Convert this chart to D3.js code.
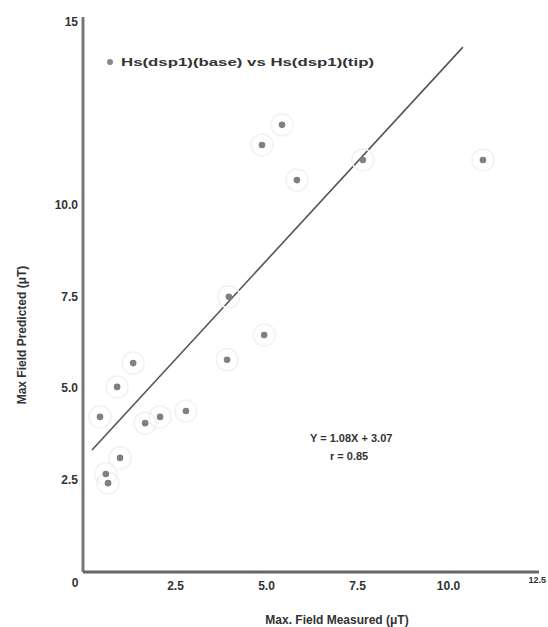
<!DOCTYPE html>
<html>
<head>
<meta charset="utf-8">
<script src="https://cdn.jsdelivr.net/npm/d3@7"></script>
<style>
  body { margin: 0; background: #fff; }
  text { font-family: "Liberation Sans", Arial, sans-serif; font-weight: bold; fill: #333; }
</style>
</head>
<body>
<div id="chart"></div>
<script>
// Measured vs predicted maximum field
var measured  = [0.44, 0.91, 1.35, 1.68, 2.09, 2.80, 3.93, 0.99, 0.60, 0.66, 3.98, 4.95, 4.89, 5.44, 5.85, 7.66, 10.96];
var predicted = [4.21, 5.03, 5.68, 4.04, 4.21, 4.37, 5.77, 3.09, 2.65, 2.40, 7.49, 6.45, 11.64, 12.19, 10.68, 11.23, 11.23];
var xTicks = [2.5, 5.0, 7.5, 10.0];
var yTicks = [2.5, 5.0, 7.5, 10.0, 15];
var fitSlope = 1.08, fitIntercept = 3.07, fitRange = [0.22, 10.41];
var fitLabels = ["Y = 1.08X + 3.07", "r = 0.85"];
var legendLabel = "Hs(dsp1)(base) vs Hs(dsp1)(tip)";

var width = 548, height = 627;
var margin = {top: 22, right: 9, bottom: 56, left: 84};

var svg = d3.select("#chart").append("svg")
    .attr("width", width)
    .attr("height", height);

var x = d3.scaleLinear().domain([0, 12.5]).range([margin.left, width - margin.right]);
var y = d3.scaleLinear().domain([0, 15]).range([height - margin.bottom, margin.top]);

// axes
svg.append("line")
    .attr("x1", x(0) - 1).attr("x2", x(0) - 1)
    .attr("y1", 17).attr("y2", y(0) + 1)
    .style("stroke", "#777").style("stroke-width", 3);
svg.append("line")
    .attr("x1", x(0) - 1).attr("x2", x(12.5))
    .attr("y1", y(0) + 1).attr("y2", y(0) + 1)
    .style("stroke", "#666").style("stroke-width", 3);

var xAxis = svg.append("g")
    .attr("transform", "translate(0," + (y(0) + 2) + ")")
    .call(d3.axisBottom(x).tickValues(xTicks).tickSize(0).tickPadding(8).tickFormat(d3.format(".1f")));
xAxis.select(".domain").remove();
xAxis.selectAll("text").style("font-size", "12px").attr("font-family", null);

var yAxis = svg.append("g")
    .attr("transform", "translate(" + (x(0) - 3) + ",0)")
    .call(d3.axisLeft(y).tickValues(yTicks).tickSize(0).tickPadding(3)
        .tickFormat(function(d) { return d == 15 ? "15" : d3.format(".1f")(d); }));
yAxis.select(".domain").remove();
yAxis.selectAll("text").style("font-size", "12px").attr("font-family", null);

// corner and end labels
svg.append("text").attr("x", 75).attr("y", y(0) + 16)
    .style("font-size", "12px").style("text-anchor", "middle").text("0");
svg.append("text").attr("x", 546).attr("y", y(0) + 12)
    .style("font-size", "9px").style("text-anchor", "end").text("12.5");

// axis titles
svg.append("text")
    .attr("x", 337).attr("y", 624)
    .style("font-size", "12px").style("text-anchor", "middle")
    .text("Max. Field Measured (\u03bcT)");
svg.append("text")
    .attr("transform", "translate(26,335) rotate(-90)")
    .style("font-size", "12px").style("text-anchor", "middle")
    .text("Max Field Predicted (\u03bcT)");

// regression line
svg.append("path")
    .datum(fitRange)
    .attr("d", d3.line()
        .x(function(d) { return x(d); })
        .y(function(d) { return y(fitSlope * d + fitIntercept); }))
    .style("fill", "none")
    .style("stroke", "#555")
    .style("stroke-width", 1.6);

// faint halos then points
var pts = measured.map(function(d, i) { return [d, predicted[i]]; });
svg.selectAll("circle.halo").data(pts).enter()
    .append("circle").attr("class", "halo")
    .attr("cx", function(d) { return x(d[0]); })
    .attr("cy", function(d) { return y(d[1]); })
    .attr("r", 11)
    .style("fill", "none").style("stroke", "#f2f2f2").style("stroke-width", 1.5);
svg.selectAll("circle.pt").data(pts).enter()
    .append("circle").attr("class", "pt")
    .attr("cx", function(d) { return x(d[0]); })
    .attr("cy", function(d) { return y(d[1]); })
    .attr("r", 3.3)
    .style("fill", "#808080");

// legend
svg.append("circle").attr("cx", 110).attr("cy", 62).attr("r", 3).style("fill", "#888");
svg.append("text").attr("x", 121).attr("y", 66)
    .attr("textLength", 253).attr("lengthAdjust", "spacingAndGlyphs")
    .style("font-size", "11px")
    .text(legendLabel);

// fit annotation
svg.selectAll("text.fit").data(fitLabels).enter()
    .append("text").attr("class", "fit")
    .attr("x", function(d, i) { return i == 0 ? 310 : 330; })
    .attr("y", function(d, i) { return 442 + i * 18; })
    .style("font-size", "11px")
    .text(function(d) { return d; });
</script>
</body>
</html>
